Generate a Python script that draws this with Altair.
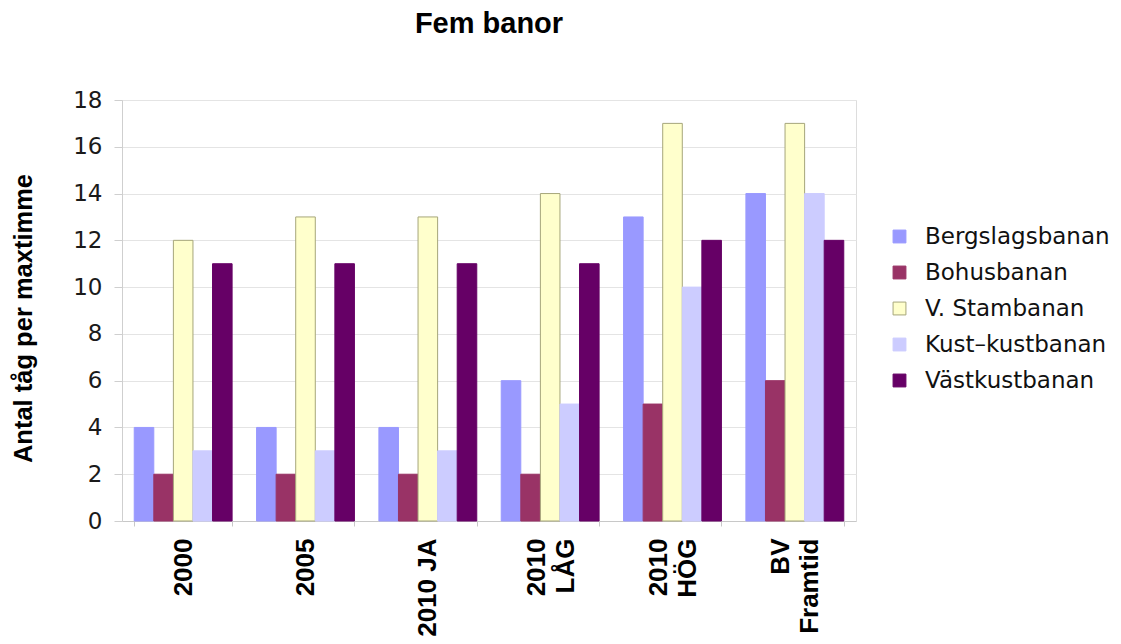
import altair as alt
import pandas as pd

# Scenarios on the x axis ("|" marks a line break in the label)
categories = ["2000", "2005", "2010 JA", "2010|LÅG", "2010|HÖG", "BV|Framtid"]

# Railway lines (series) and their colours
series = ["Bergslagsbanan", "Bohusbanan", "V. Stambanan", "Kust–kustbanan", "Västkustbanan"]
fill_colors = ["#9999ff", "#993366", "#ffffcc", "#ccccff", "#660066"]
stroke_colors = ["#9999ff", "#993366", "#a6a67a", "#ccccff", "#660066"]

# Trains per peak hour, one list per line, in category order
bergslagsbanan = [4, 4, 4, 6, 13, 14]
bohusbanan = [2, 2, 2, 2, 5, 6]
v_stambanan = [12, 13, 13, 14, 17, 17]
kust_kustbanan = [3, 3, 3, 5, 10, 14]
vastkustbanan = [11, 11, 11, 11, 12, 12]

values = [bergslagsbanan, bohusbanan, v_stambanan, kust_kustbanan, vastkustbanan]
rows = []
for name, vals in zip(series, values):
    for cat, v in zip(categories, vals):
        rows.append({"scenario": cat, "bana": name, "antal": v})
df = pd.DataFrame(rows)

legend_style = dict(
    title=None,
    orient="none",
    legendX=766,
    legendY=125,
    symbolType="square",
    symbolSize=165,
    symbolStrokeWidth=1,
    labelFont="DejaVu Sans",
    labelFontSize=23,
    labelColor="#111111",
    labelOffset=14,
    labelLimit=0,
    rowPadding=12,
    padding=0,
)

chart = (
    alt.Chart(df)
    .mark_bar(strokeWidth=1)
    .encode(
        x=alt.X(
            "scenario:N",
            sort=categories,
            scale=alt.Scale(paddingInner=0.2, paddingOuter=0.1),
            axis=alt.Axis(
                title=None,
                labelAngle=-90,
                labelAlign="right",
                labelBaseline="middle",
                labelExpr="split(datum.label, '|')",
                # two-line labels are centred on their category as a block
                labelOffset={"expr": "indexof(datum.label, '|') >= 0 ? -14 : 0"},
                labelFont="Liberation Sans",
                labelFontWeight="bold",
                labelFontSize=26,
                labelLineHeight=29,
                labelColor="#000000",
                labelPadding=12,
                tickBand="extent",
                tickSize=5,
                tickColor="#c8c8c8",
                domainColor="#c8c8c8",
                grid=False,
            ),
        ),
        xOffset=alt.XOffset("bana:N", sort=series, scale=alt.Scale(paddingInner=0, paddingOuter=0)),
        y=alt.Y(
            "antal:Q",
            scale=alt.Scale(domain=[0, 18], nice=False),
            axis=alt.Axis(
                values=list(range(0, 19, 2)),
                title="Antal tåg per maxtimme",
                titleFont="Liberation Sans",
                titleFontWeight="bold",
                titleFontSize=25.5,
                titleColor="#000000",
                titleAngle=-90,
                titleAlign="center",
                titleBaseline="middle",
                titleX=-99,
                titleY=218,
                labelFont="DejaVu Sans",
                labelFontSize=23,
                labelColor="#1a1a1a",
                labelPadding=12,
                tickSize=8,
                tickColor="#cfcfcf",
                domainColor="#cfcfcf",
                gridColor="#e4e4e4",
            ),
        ),
        fill=alt.Fill(
            "bana:N",
            sort=series,
            scale=alt.Scale(domain=series, range=fill_colors),
            legend=alt.Legend(**legend_style),
        ),
        stroke=alt.Stroke(
            "bana:N",
            sort=series,
            scale=alt.Scale(domain=series, range=stroke_colors),
            legend=alt.Legend(**legend_style),
        ),
    )
    .properties(
        width=734,
        height=421,
        title=alt.TitleParams(
            "Fem banor",
            font="Liberation Sans",
            fontWeight="bold",
            fontSize=29,
            color="#000000",
            anchor="middle",
            offset=50,
        ),
        autosize=alt.AutoSizeParams(type="none"),
        padding={"left": 122, "top": 100, "right": 265, "bottom": 123},
    )
    .configure_view(stroke=None)
    .configure(background="#ffffff")
)

chart.save("out.html", embed_options={"renderer": "svg", "actions": False})
